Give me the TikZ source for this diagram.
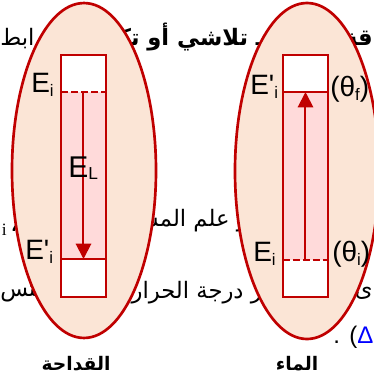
\documentclass[tikz,border=0pt]{standalone}
\usepackage{fontspec}
\setmainfont{Liberation Sans}
\newfontfamily\arabicfont[Script=Arabic]{DejaVu Sans}
\newfontfamily\seriffont{Liberation Serif}
\TeXXeTstate=1
\usetikzlibrary{arrows.meta}
\definecolor{dred}{HTML}{C00000}
\definecolor{peach}{HTML}{FBE5D6}
\definecolor{pinkf}{HTML}{FFDADA}
\definecolor{linkblue}{HTML}{0000FF}
\newcommand{\lsub}[1]{\raisebox{-3pt}{\fontsize{12.5}{14}\selectfont #1}}
\newcommand{\Lsub}[1]{\raisebox{-2pt}{\fontsize{13}{15}\selectfont #1}}
\tikzset{
  bgtext/.style={inner sep=0pt, font=\arabicfont\fontsize{17}{20}\selectfont},
  bgbold/.style={inner sep=0pt, font=\arabicfont\bfseries\fontsize{17}{20}\selectfont},
  oval/.style={draw=dred, fill=peach, line width=2pt},
  tube/.style={draw=dred, line width=1.5pt},
  lvl/.style={inner sep=0pt, font=\fontsize{21}{25}\selectfont},
  caption/.style={inner sep=0pt, font=\arabicfont\bfseries\fontsize{14}{16}\selectfont},
  heat/.style={draw=dred, line width=1.5pt, -{Triangle[width=11.5pt,length=11.5pt]}, fill=dred},
  dashline/.style={draw=dred, line width=1.5pt, dash pattern=on 5pt off 2.5pt},
}
\begin{document}
\begin{tikzpicture}[x=0.75pt,y=-0.75pt]
\useasboundingbox (0,0) rectangle (374,380);
\clip (0,0) rectangle (374,380);
% background page text
\node[bgtext, anchor=base west] (t1) at (0,45) {\beginR ابط\endR};
\node[bgbold, anchor=base east] (t2) at (264,45) {\beginR ـ تلاشي أو تكو\endR};
\node[bgbold, anchor=base east] (t3) at (373,45) {\beginR قة\endR};
\node[bgtext, anchor=base east] (t4) at (248,226) {\beginR ر علم المسعر\endR};
\node[inner sep=0pt, anchor=base west, font=\seriffont\fontsize{13}{15}\selectfont] (t5) at (1.5,235) {i};
\node[bgtext, anchor=base] (t6) at (14,231) {\beginR ،\endR};
\node[bgtext, anchor=base west] (t7) at (0,296) {\beginR التس\endR};
\node[bgtext, anchor=base east] (t8) at (262,298) {\beginR ر درجة الحرارة\endR};
\node[bgtext, anchor=base east] (t9) at (373,296) {\beginR ى\endR};
\node[inner sep=0pt, anchor=base west, font=\fontsize{18}{21}\selectfont] (t10) at (333,343) {.};
\node[inner sep=0pt, anchor=base west, font=\fontsize{18}{21}\selectfont] (t11) at (349,343) {(\textcolor{linkblue}{Δ}};
% ovals
\path[oval] (84,170.5) ellipse [x radius=54pt, y radius=125.6pt];
\path[oval] (307,171) ellipse [x radius=54pt, y radius=126pt];
% left tube (lighter)
\fill[white] (61,55) rectangle (106,297);
\fill[pinkf] (61,92) rectangle (106,259);
\draw[dashline] (61,92) -- (106,92);
\draw[tube] (61,259) -- (106,259);
\draw[tube] (61,55) rectangle (106,297);
\coordinate (la1) at (83.5,92);
\coordinate (la2) at (83.5,259);
\draw[heat] (la1) -- (la2);
% right tube (water)
\fill[white] (283,55) rectangle (328,297);
\fill[pinkf] (283,92) rectangle (328,260);
\draw[dashline] (283,260) -- (328,260);
\draw[tube] (283,92) -- (328,92);
\draw[tube] (283,55) rectangle (328,297);
\coordinate (ra1) at (305.5,260);
\coordinate (ra2) at (305.5,92);
\draw[heat] (ra1) -- (ra2);
% labels
\node[lvl, anchor=base west] (Ei) at (31,92) {E\lsub{i}};
\node[lvl, anchor=base west, font=\fontsize{22.5}{26}\selectfont] (EL) at (68,177) {E\Lsub{L}};
\node[lvl, anchor=base west] (Epi) at (25,259) {E\textquotesingle\lsub{i}};
\node[lvl, anchor=base west] (Epf) at (250,94) {E\textquotesingle\lsub{i}};
\node[lvl, anchor=base west] (thf) at (330,96) {(θ\lsub{f})};
\node[lvl, anchor=base west] (Eir) at (253,261) {E\lsub{i}};
\node[lvl, anchor=base west] (thi) at (332,261) {(θ\lsub{i})};
\node[caption, anchor=base] (c1) at (76,370) {\beginR القداحة\endR};
\node[caption, anchor=base] (c2) at (297,370) {\beginR الماء\endR};
\end{tikzpicture}
\end{document}
